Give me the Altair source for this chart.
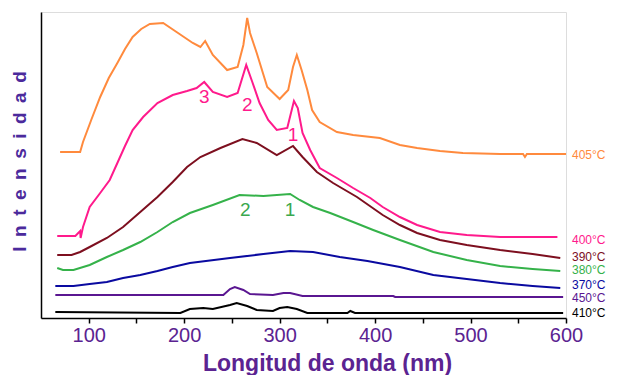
import altair as alt
import pandas as pd

# ---- data (wavelength in nm, intensity in arbitrary units) ----
series_names = ["405°C", "400°C", "390°C", "380°C", "370°C", "450°C", "410°C"]
series_colors = ["#ff8a3d", "#ff1a8c", "#7d0f1f", "#35b24a", "#0a0aa0", "#5a1691", "#000000"]
# vertical position of the end-of-curve labels (same intensity units)
label_in = [163, 78, 61, 48, 33, 20, 5]

wl_405 = [70, 91, 94, 103, 112, 121, 130, 138, 146, 155, 164, 178, 192, 209, 217, 222, 230, 245, 256, 262,
          266, 269, 276, 287, 300, 309, 314, 318, 323, 329, 334, 342, 360, 377, 405, 426, 444, 468, 492, 531,
          555, 557, 559, 600]
in_405 = [166, 166, 176, 199, 221, 240, 255, 269, 281, 289, 294, 295, 286, 275, 271, 277, 263, 248, 251, 273,
          300, 285, 265, 231, 219, 228, 251, 263, 248, 228, 208, 196, 186, 183, 180, 173, 170, 167, 165, 164,
          164, 161, 164, 164]

wl_400 = [67, 86, 91, 91.5, 94, 101, 112, 122, 130, 138, 146, 157, 172, 188, 203, 213, 221, 230, 245, 256,
          265, 271, 279, 288, 297, 308, 315, 319, 324, 332, 342, 360, 377, 395, 408, 426, 444, 468, 496, 531, 591]
in_400 = [82, 82, 87, 80, 91, 111, 125, 138, 155, 172, 188, 201, 215, 223, 227, 230, 236, 226, 221, 225,
          253, 237, 215, 198, 188, 190, 217, 210, 185, 168, 150, 140, 130, 120, 111, 101, 93, 86, 83, 81, 81]

wl_390 = [67, 82, 91, 101, 119, 136, 154, 172, 188, 203, 217, 238, 261, 276, 297, 314, 324, 339, 356, 381,
          408, 426, 444, 468, 496, 531, 565, 594]
in_390 = [63, 63, 66, 71, 80, 91, 106, 121, 136, 151, 161, 170, 179, 175, 163, 172, 161, 146, 135, 121,
          103, 93, 85, 78, 73, 68, 64, 60]

wl_380 = [67, 73, 84, 101, 119, 136, 154, 172, 188, 206, 230, 258, 283, 311, 321, 335, 353, 377, 398, 426,
          461, 496, 531, 565, 594]
in_380 = [50, 48, 48, 53, 61, 68, 76, 86, 96, 105, 113, 123, 122, 124, 118, 111, 105, 96, 88, 78,
          66, 58, 52, 49, 47]

wl_370 = [65, 84, 101, 119, 136, 154, 172, 188, 206, 248, 283, 311, 335, 363, 392, 426, 461, 496, 531, 565, 594]
in_370 = [32, 32, 34, 36, 40, 43, 47, 51, 55, 60, 64, 67, 66, 61, 57, 51, 43, 39, 35, 32, 30]

wl_450 = [65, 241, 248, 253, 262, 269, 293, 304, 311, 324, 419, 421, 597]
in_450 = [23, 23, 29, 31, 28, 24, 23, 25, 25, 22, 22, 21, 21]

wl_410 = [65, 196, 206, 220, 230, 248, 255, 266, 276, 293, 300, 308, 318, 329, 371, 374, 379, 597]
in_410 = [6, 5, 9, 10, 9, 13, 15, 12, 8, 7, 10, 11, 9, 5, 5, 7, 5, 5]

peak_text = ["3", "2", "1", "2", "1"]
peak_wl = [221, 266, 314, 264, 311]
peak_in = [221, 213, 183, 108, 108]
peak_color = ["#ff1a8c", "#ff1a8c", "#ff1a8c", "#3aa84e", "#3aa84e"]

all_wl = [wl_405, wl_400, wl_390, wl_380, wl_370, wl_450, wl_410]
all_in = [in_405, in_400, in_390, in_380, in_370, in_450, in_410]

rows = []
for name, wls, ins in zip(series_names, all_wl, all_in):
    for i, (w, v) in enumerate(zip(wls, ins)):
        rows.append({"serie": name, "idx": i, "wl": w, "val": v})
df = pd.DataFrame(rows)

end_df = pd.DataFrame({"serie": series_names, "val": label_in})

peaks_df = pd.DataFrame({"t": peak_text, "wl": peak_wl, "val": peak_in, "c": peak_color})

FONT = "Liberation Sans"
PURPLE = "#5b2391"

color_scale = alt.Scale(domain=series_names, range=series_colors)
x_scale = alt.Scale(domain=[50, 600], nice=False, zero=False)
y_scale = alt.Scale(domain=[0, 306], nice=False, zero=False)

x_axis = alt.Axis(
    values=list(range(100, 601, 50)),
    labelExpr="datum.value % 100 === 0 ? datum.label : ''",
    grid=False, tickSize=5, tickColor="black", tickWidth=1.5,
    domainColor="black", domainWidth=1.5,
    labelFont=FONT, labelFontSize=20, labelColor=PURPLE, labelPadding=2,
    labelFlush=False, labelOverlap=False,
    title="Longitud de onda (nm)", titleFont=FONT, titleFontSize=23,
    titleFontWeight="bold", titleColor=PURPLE,
    titleX=286, titleY=52, titleAlign="center", titleBaseline="alphabetic",
)
sp = "\u2002"
y_axis = alt.Axis(
    labels=False, ticks=False, grid=False,
    domainColor="black", domainWidth=1.5,
    title=sp.join("Intensidad"), titleFont=FONT, titleFontSize=19,
    titleFontWeight="bold", titleColor="#4b2a9c",
    titleX=-22, titleY=149, titleAlign="center", titleBaseline="middle", titleAngle=270,
)

lines = alt.Chart(df).mark_line(strokeWidth=2).encode(
    x=alt.X("wl:Q", scale=x_scale, axis=x_axis),
    y=alt.Y("val:Q", scale=y_scale, axis=y_axis),
    color=alt.Color("serie:N", scale=color_scale, legend=None),
    detail="serie:N",
    order="idx:Q",
)

end_labels = alt.Chart(end_df).mark_text(
    align="left", baseline="middle", font=FONT, fontSize=12
).encode(
    x=alt.value(531),
    y=alt.Y("val:Q", scale=y_scale),
    text="serie:N",
    color=alt.Color("serie:N", scale=color_scale, legend=None),
)

peak_labels = alt.Chart(peaks_df).mark_text(
    align="center", baseline="middle", font=FONT, fontSize=19
).encode(
    x=alt.X("wl:Q", scale=x_scale),
    y=alt.Y("val:Q", scale=y_scale),
    text="t:N",
    color=alt.Color("c:N", scale=None),
)

chart = alt.layer(lines, end_labels, peak_labels).properties(
    width=525, height=306,
    autosize=alt.AutoSizeParams(type="none"),
    padding={"left": 41, "top": 12, "right": 52, "bottom": 57},
).configure_view(stroke=None).configure(background="white")

chart.save("out.html", embed_options={"renderer": "svg", "actions": False})
